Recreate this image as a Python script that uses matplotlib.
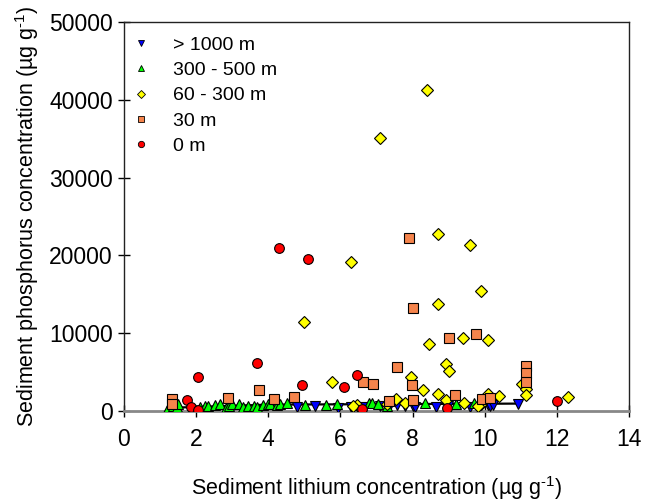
import matplotlib
matplotlib.use("Agg")
import matplotlib.pyplot as plt
from matplotlib.lines import Line2D

plt.rcParams['font.family'] = ['Liberation Sans', 'DejaVu Sans']
plt.rcParams['mathtext.fontset'] = 'custom'
plt.rcParams['mathtext.rm'] = 'Liberation Sans'
plt.rcParams['mathtext.it'] = 'Liberation Sans:italic'
plt.rcParams['mathtext.bf'] = 'Liberation Sans:bold'

# >1000 m
blue_x = [4.8, 5.3, 5.93, 6.3, 6.62, 7.1, 7.35, 7.56, 7.8, 8.0, 8.07, 8.65, 8.98, 9.6, 9.82, 10.1, 10.15, 10.24, 10.93]
blue_y = [500, 600, 400, 500, 500, 700, 450, 800, 600, 600, 550, 550, 650, 500, 500, 750, 650, 750, 850]
# 300-500 m
green_x = [1.22, 1.35, 1.47, 1.5, 2.1, 2.25, 2.33, 2.52, 2.66, 2.83, 2.9, 3.0, 3.2, 3.3, 3.43, 3.6, 3.68,
           3.86, 4.0, 4.05, 4.24, 4.32, 4.52, 5.02, 5.6, 5.9, 6.8, 6.87, 7.05, 7.3, 8.35, 9.2, 9.7]
green_y = [400, 600, 500, 900, 500, 650, 700, 800, 900, 400, 700, 900, 850, 500, 650, 700, 500,
           800, 900, 850, 800, 900, 1000, 800, 800, 900, 1000, 1000, 900, 650, 1000, 900, 1000]
# 60-300 m
yellow_x = [7.1, 8.4, 6.3, 5.0, 8.7, 9.6, 9.9, 8.7, 8.45, 9.4, 10.1, 8.93, 9.0, 7.96, 8.3, 8.7, 7.55,
            7.8, 8.93, 9.43, 10.1, 10.4, 5.77, 6.45, 11.03, 11.15, 11.15, 12.3, 9.9, 7.3, 9.8, 6.35]
yellow_y = [35100, 41200, 19100, 11400, 22800, 21400, 15400, 13700, 8600, 9400, 9100, 6100, 5100, 4400,
            2700, 2200, 1500, 1000, 1400, 1000, 2200, 1900, 3700, 750, 3500, 2800, 2000, 1800, 900, 900, 600, 600]
# 30 m
orange_x = [1.33, 1.33, 2.88, 3.75, 4.17, 4.72, 6.62, 6.9, 7.56, 7.98, 7.35, 8.0, 9.18, 9.93, 10.15,
            11.15, 11.15, 11.15, 7.9, 8.0, 9.0, 9.76]
orange_y = [1500, 900, 1700, 2700, 1500, 1800, 3700, 3450, 5600, 3300, 1300, 1400, 2000, 1500, 1700,
            5800, 4900, 3700, 22300, 13300, 9400, 9900]
# 0 m
red_x = [4.3, 5.1, 3.7, 2.05, 1.75, 1.86, 2.05, 4.93, 6.45, 6.1, 6.6, 8.95, 12.0]
red_y = [20900, 19600, 6200, 4400, 1400, 500, 100, 3350, 4650, 3100, 250, 350, 1250]

# fitted line
line_x = [1.2, 4.0, 10.9]
line_y = [400, 820, 950]

labels = ['> 1000 m', '300 - 500 m', '60 - 300 m', '30 m', '0 m']

fig = plt.figure(figsize=(6.49, 5.01), dpi=100)
ax = fig.add_axes([124/649, 1-411/501, (629-124)/649, (411-22)/501])

ax.plot(line_x, line_y, color='black', lw=1.6, zorder=2)

series = [
    (blue_x, blue_y, 'v', '#0000ff', 7.5),
    (green_x, green_y, '^', '#00ff00', 7.5),
    (yellow_x, yellow_y, 'D', '#ffff00', 6.5),
    (orange_x, orange_y, 's', '#f5844c', 7),
    (red_x, red_y, 'o', '#ff0000', 7),
]
handles = []
for (xs, ys, m, c, ms), lab in zip(series, labels):
    ax.plot(xs, ys, ls='none', marker=m, markersize=ms, markerfacecolor=c,
            markeredgecolor='black', markeredgewidth=0.8, zorder=3)
    handles.append(Line2D([], [], ls='none', marker=m, markersize=ms*0.65,
                          markerfacecolor=c, markeredgecolor='black', markeredgewidth=0.6))

ax.set_xlim(0, 14)
ax.set_ylim(0, 50000)
ax.set_xticks(range(0, 15, 2))
ax.set_yticks(range(0, 50001, 10000))
ax.tick_params(direction='inout', length=8, width=1, labelsize=16.5)
ax.tick_params(axis='x', pad=8)
ax.tick_params(axis='y', pad=4)
for s in ['left', 'right', 'top']:
    ax.spines[s].set_color('#222222')
    ax.spines[s].set_linewidth(1)
ax.spines['bottom'].set_color('#888888')
ax.spines['bottom'].set_linewidth(2)

ax.set_xlabel(r'Sediment lithium concentration (µg g$^{\text{-}1}$)', fontsize=15.5, labelpad=17)
ax.set_ylabel(r'Sediment phosphorus concentration (µg g$^{\text{-}1}$)', fontsize=15.5, labelpad=6)

leg = ax.legend(handles, labels, loc='upper left', frameon=False, fontsize=14,
                handlelength=1.0, handletextpad=1.15, labelspacing=0.4,
                borderaxespad=0.0, borderpad=0.6, bbox_to_anchor=(-0.008, 0.994))

fig.savefig('out.png', dpi=100)
